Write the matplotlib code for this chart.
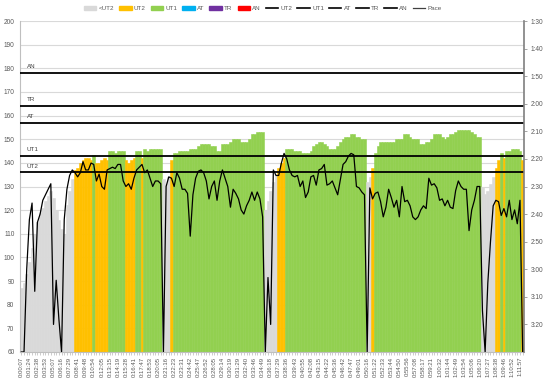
import numpy as np
import matplotlib.pyplot as plt
from matplotlib.patches import Patch
from matplotlib.lines import Line2D

# time labels shown on the x axis (one every 3 samples)
time_labels = [
    "0:00:07", "0:01:24", "0:02:38", "0:03:53", "0:05:07", "0:06:16", "0:07:29", "0:08:41", "0:09:48",
    "0:10:54", "0:12:05", "0:13:15", "0:14:19", "0:15:28", "0:16:41", "0:17:47", "0:18:53", "0:20:05",
    "0:21:16", "0:22:23", "0:23:31", "0:24:42", "0:25:47", "0:26:52", "0:28:05", "0:29:14", "0:30:19",
    "0:31:29", "0:32:40", "0:33:46", "0:34:49", "0:36:18", "0:37:29", "0:38:36", "0:39:43", "0:40:55",
    "0:42:08", "0:43:15", "0:44:22", "0:45:36", "0:46:42", "0:47:47", "0:49:01", "0:50:16", "0:51:22",
    "0:52:33", "0:53:44", "0:54:50", "0:55:56", "0:57:08", "0:58:17", "0:59:21", "1:00:32", "1:01:44",
    "1:02:49", "1:03:54", "1:05:06", "1:06:20", "1:07:27", "1:08:38", "1:09:46", "1:10:52", "1:11:57",
]
label_step = 3

# heart rate (bpm)
hr = [
    87, 89, 93, 98, 104, 110, 115, 119, 121, 124, 126, 128, 125, 120, 116, 112, 110, 122, 128, 133,
    137, 138, 140, 141, 142, 142, 141, 143.5, 140, 140, 141, 142, 141, 145, 145, 144, 145, 145, 145,
    141, 140, 141, 142, 145, 145, 142, 146,
    145, 146, 146, 146, 146, 146, 133, 131, 134, 141, 144, 144, 145, 145, 145, 145, 146, 146, 146, 147,
    148, 148, 148, 148, 147, 147, 145, 145, 148, 148, 148, 149, 150, 150, 150, 149, 149, 149, 150,
    152, 152, 153, 153, 153,
    120, 124, 128, 132, 135, 138, 140, 142,
    146, 146, 146, 145, 145, 145, 144, 144, 144, 145, 147, 148, 149, 149, 148, 147, 146, 146, 146, 147,
    149, 150, 151, 151, 152, 152, 151, 151, 150, 150, 132, 134, 138,
    144, 147, 149,
    149, 149, 149, 149, 149, 150, 150, 150, 152, 152, 151, 150, 150, 150, 148, 148, 149, 149, 150, 152,
    152, 152, 151, 150, 151, 152, 152, 153, 154, 154, 154, 154, 154, 153, 152, 151, 151, 130, 127, 128,
    131, 134, 138, 141, 144, 142, 145, 145, 146, 146, 146, 145, 141,
]

# pace (seconds per 500m)
pace = [
    210, 210, 180, 162, 156, 188, 163, 160, 155, 153, 151, 149, 200, 184, 198, 210, 162, 151, 146, 144,
    145, 146.5, 145, 141, 144, 144, 141.5, 142, 148, 145.5, 150, 151, 144, 143.5, 143, 143.5, 142, 142,
    148, 150, 149, 151, 147, 144, 143, 142, 145,
    144, 147, 150, 148, 148, 149, 210, 150, 146.5, 147, 150, 145, 147, 151, 151, 152.5, 168, 153, 147,
    144.5, 144, 145, 148, 154.5, 150, 148, 155, 148, 144, 147, 150, 157.5, 151, 152.5, 154.5, 158.5,
    160, 157, 155, 152, 155, 152, 154.5, 161,
    210, 183, 200, 144, 146, 146, 141.5, 138,
    140, 144, 146, 146.5, 146, 150, 148, 154, 152, 146.5, 146, 149.5, 144, 143.5, 142, 149.5, 149, 148,
    150.5, 153, 147.5, 142, 141, 139, 138, 138.5, 150, 150.5, 152, 153, 210, 150.5, 154.5, 152.5, 152,
    155.5, 161, 157.5, 151, 154, 157.5, 155,
    161, 150, 155.5, 155, 157, 161, 162, 161, 158.5, 157, 158, 147, 149.5, 149, 150.5, 155, 154.5, 157,
    155, 157.5, 158, 151.5, 148, 150, 151, 151, 166, 158.5, 155, 150, 150, 195, 210, 185, 170, 157, 155,
    155.5, 160.5, 158, 161, 155, 162, 158.5, 163.5, 155, 210,
]

zone_names = ["<UT2", "UT2", "UT1", "AT", "TR", "AN"]
zone_colors = ["#d9d9d9", "#ffc000", "#92d050", "#00b0f0", "#7030a0", "#ff0000"]
zone_limits = [136, 143, 157, 164, 178]  # lower bound of UT2, UT1, AT, TR, AN

plt.rcParams['font.family'] = ['Liberation Sans', 'DejaVu Sans']
txt_color = "#595959"

fig = plt.figure(figsize=(5.45, 3.8), dpi=100)
ax = fig.add_axes([20 / 545, 28 / 380, 504 / 545, 331 / 380])

x = np.arange(len(hr))
zone_idx = np.digitize(hr, zone_limits)
colors = [zone_colors[z] for z in zone_idx]
ax.bar(x, np.array(hr) - 60, bottom=60, width=1.0, color=colors,
       edgecolor=colors, linewidth=0.4, zorder=2)

# zone limit lines + names
for name, val in zip(zone_names[1:], zone_limits):
    ax.axhline(val, color="black", lw=1.3, zorder=4)
    ax.text(2, val + 1.6, name, fontsize=4.5, color="#404040", va="bottom", zorder=5)

ax.set_xlim(-0.5, len(hr) - 0.5)
ax.set_ylim(60, 200)
ax.set_yticks(range(60, 201, 10))
ax.yaxis.grid(True, color="#d9d9d9", lw=0.8)
ax.set_axisbelow(True)

ticks = np.arange(len(time_labels)) * label_step
ax.set_xticks(ticks)
ax.set_xticklabels(time_labels, rotation=90)
ax.set_xticks(x, minor=True)
ax.tick_params(axis="x", which="both", length=2, width=0.4, color="#a6a6a6",
               labelsize=4.3, labelcolor=txt_color, pad=1.5)
ax.tick_params(axis="y", length=0, labelsize=4.7, labelcolor=txt_color, pad=4)

for s in ["top", "right"]:
    ax.spines[s].set_visible(False)
ax.spines["left"].set_color("#bfbfbf")
ax.spines["bottom"].set_color("#bfbfbf")

# pace on the right axis, inverted
ax2 = ax.twinx()
ax2.plot(x, pace, color="black", lw=0.9, zorder=6)
ax2.set_ylim(210, 90)
pace_ticks = list(range(90, 201, 10))
ax2.set_yticks(pace_ticks)
ax2.set_yticklabels([f"{t // 60}:{t % 60:02d}" for t in pace_ticks])
ax2.tick_params(axis="y", length=2, width=0.5, color="#808080", labelsize=4.7,
                labelcolor=txt_color, pad=3)
for s in ["top", "left", "bottom"]:
    ax2.spines[s].set_visible(False)
ax2.spines["right"].set_color("#7f7f7f")
ax2.spines["right"].set_linewidth(1.2)

handles = [Patch(color=c) for c in zone_colors]
handles += [Line2D([], [], color="black", lw=1.2) for _ in zone_limits]
handles += [Line2D([], [], color="#404040", lw=0.9)]
labels = zone_names + zone_names[1:] + ["Pace"]
fig.legend(handles, labels, loc="center", bbox_to_anchor=(0.482, 0.978), ncol=12,
           frameon=False, fontsize=4.5, handlelength=2.0, handleheight=0.6,
           columnspacing=0.8, handletextpad=0.35, labelcolor=txt_color)

fig.savefig("out.png", dpi=100)
